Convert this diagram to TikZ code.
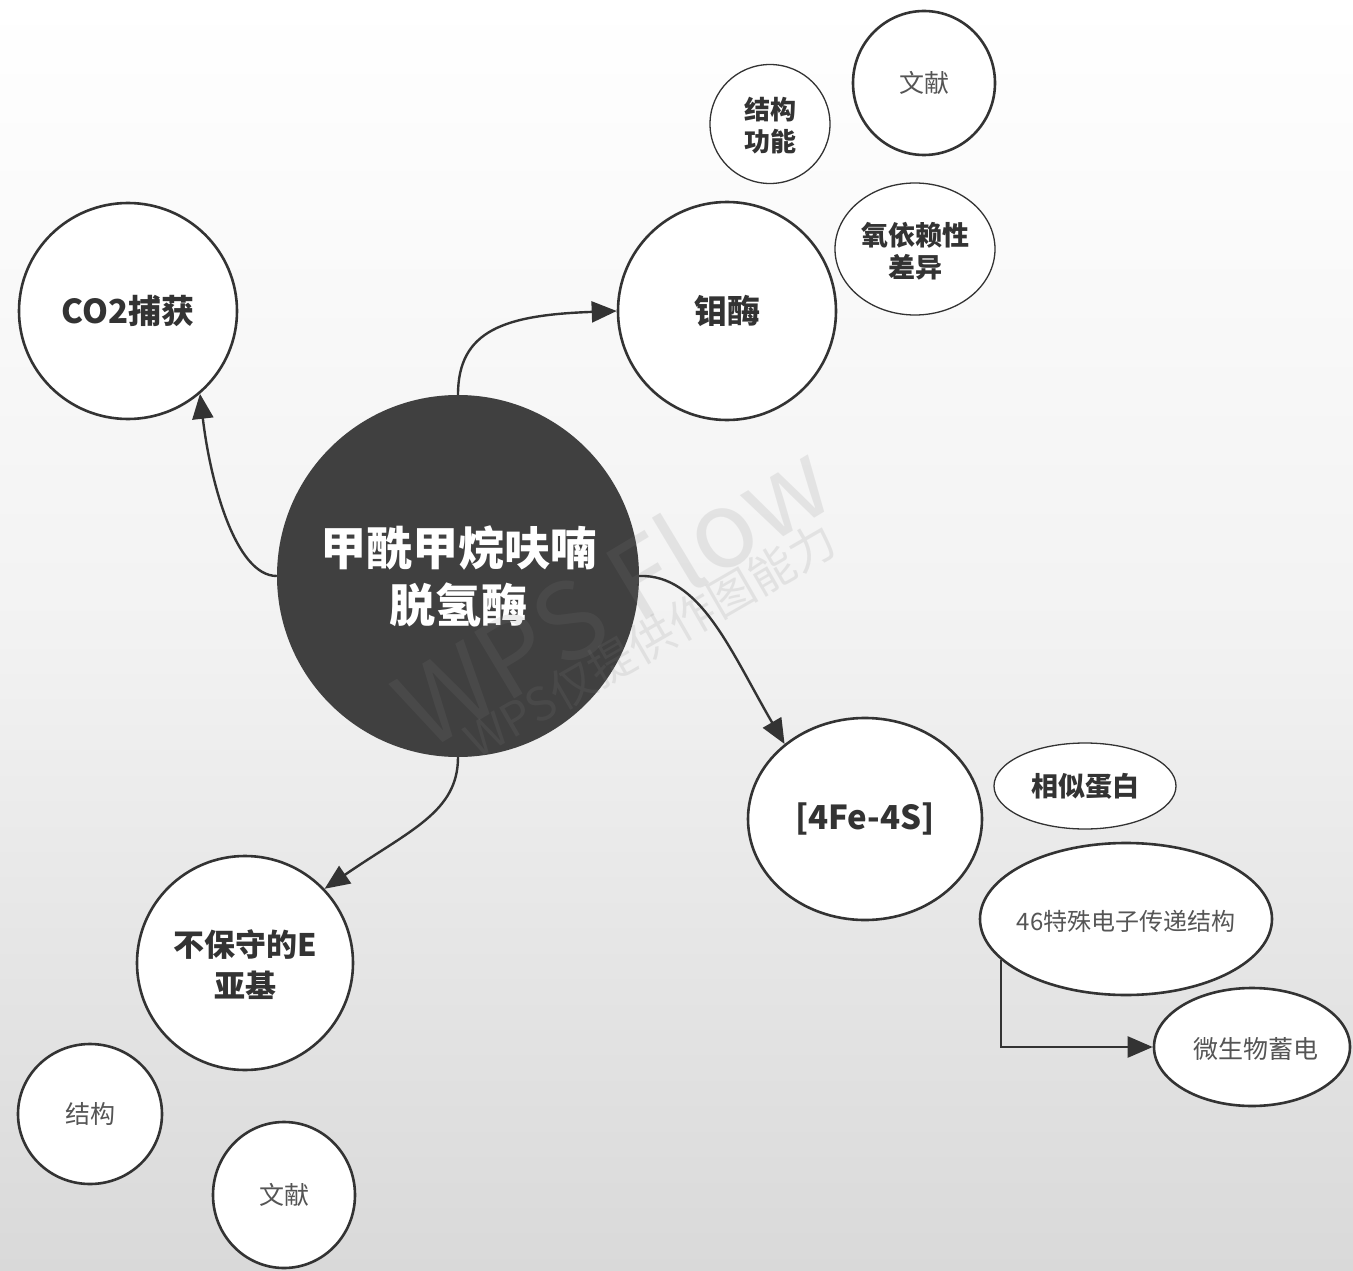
\documentclass[tikz,border=0pt]{standalone}
\usepackage{fontspec}
\setmainfont{Noto Sans CJK SC}
\newfontfamily\cjk{Noto Sans CJK SC}
\usetikzlibrary{shapes.geometric,arrows.meta}
\definecolor{linec}{HTML}{333333}
\definecolor{darkfill}{HTML}{404040}
\definecolor{boldtxt}{HTML}{333333}
\definecolor{regtxt}{HTML}{555555}
\definecolor{bgbottom}{HTML}{D9D9D9}
\definecolor{wmark}{HTML}{808080}
\begin{document}
\begin{tikzpicture}[x=1pt,y=-1pt,
  bub/.style={ellipse, draw=linec, fill=white, line width=2.6pt, inner sep=0pt},
  thinbub/.style={bub, line width=1.3pt},
  boldlab/.style={text=boldtxt, align=center, inner sep=0pt, font=\bfseries\fontsize{#1}{#1}\selectfont},
  reglab/.style={text=regtxt, align=center, inner sep=0pt, font=\fontsize{#1}{#1}\selectfont},
  conn/.style={draw=linec, line width=2.4pt, -{Triangle[length=25pt,width=21pt]}},
  wm/.style={text=wmark, opacity=0.15, inner sep=0pt}
]
% background
\shade[top color=white, bottom color=bgbottom, middle color={rgb,255:red,242;green,242;blue,242}] (0,0) rectangle (1353,1271);
\useasboundingbox (0,0) rectangle (1353,1271);

% central node
\node[circle, fill=darkfill, minimum size=362pt, inner sep=0pt] (c) at (458,576) {};
\node[text=white, align=center, inner sep=0pt, font=\bfseries\fontsize{46}{57}\selectfont] (ct) at (c.center) {甲酰甲烷呋喃\\脱氢酶};

% watermark
\node[wm, rotate=31, font=\fontsize{106}{106}\selectfont] (wm1) at (612,592) {WPS Flow};
\node[wm, rotate=30, font=\fontsize{46}{46}\selectfont] (wm2) at (650,640) {WPS仅提供作图能力};

% main branches
\node[bub, minimum width=218pt, minimum height=216pt] (co2) at (128,311) {};
\node[boldlab=33] (co2t) at (co2.center) {CO2捕获};
\node[bub, minimum width=218pt, minimum height=218pt] (moe) at (727,311) {};
\node[boldlab=33] (moet) at (moe.center) {钼酶};
\node[bub, minimum width=234pt, minimum height=202pt] (fe) at (865,819) {};
\node[boldlab=33] (fet) at (fe.center) {[4Fe-4S]};
\node[bub, minimum width=216pt, minimum height=214pt] (esub) at (245,963) {};
\node[boldlab=31] (esubt) at (245,965) {不保守的E\\[10pt]亚基};

% satellites
\node[thinbub, minimum width=120pt, minimum height=119pt] (jg1) at (770,124) {};
\node[boldlab=26] (jg1t) at (770,126) {结构\\[6pt]功能};
\node[bub, minimum width=142pt, minimum height=144pt] (wx1) at (924,83) {};
\node[reglab=25] (wx1t) at (wx1.center) {文献};
\node[thinbub, minimum width=160pt, minimum height=132pt] (yy) at (915,249) {};
\node[boldlab=27] (yyt) at (915,251) {氧依赖性\\[5pt]差异};
\node[thinbub, minimum width=182pt, minimum height=86pt] (xs) at (1085,786) {};
\node[boldlab=27] (xst) at (xs.center) {相似蛋白};
\node[bub, minimum width=292pt, minimum height=152pt] (fs) at (1126,919) {};
\node[reglab=24] (fst) at (1126,921) {46特殊电子传递结构};
\node[bub, minimum width=196pt, minimum height=118pt] (mic) at (1252,1047) {};
\node[reglab=25] (mict) at (1256,1049) {微生物蓄电};
\node[bub, minimum width=144pt, minimum height=140pt] (jg2) at (90,1114) {};
\node[reglab=25] (jg2t) at (jg2.center) {结构};
\node[bub, minimum width=142pt, minimum height=146pt] (wx2) at (284,1195) {};
\node[reglab=25] (wx2t) at (wx2.center) {文献};

% connectors
\draw[conn] (c.180) .. controls (235,576) and (210,480) .. (co2.-49);
\draw[conn] (c.90) .. controls (458,330) and (505,315) .. (moe.180);
\draw[conn] (c.0) .. controls (700,574) and (730,650) .. (fe.137);
\draw[conn] (c.-90) .. controls (458,812) and (410,830) .. (esub.43);
\draw[conn] (fs.-162.7) |- (mic.180);
\end{tikzpicture}
\end{document}
